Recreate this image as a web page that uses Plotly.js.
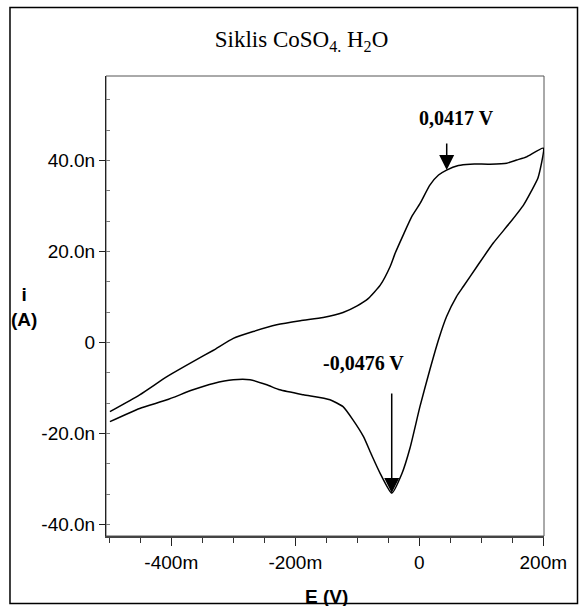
<!DOCTYPE html>
<html><head><meta charset="utf-8">
<script src="https://cdn.plot.ly/plotly-3.0.1.min.js"></script>
<style>html,body{margin:0;padding:0;background:#fff}</style>
</head><body><div id="chart" style="width:579px;height:606px"></div>
<script>
// Forward (anodic) scan, E in V, i in nA
const forwardE = [-0.499, -0.451, -0.407, -0.365, -0.332, -0.300, -0.268, -0.230, -0.192, -0.155, -0.123, -0.101, -0.082, -0.063, -0.047, -0.039, -0.026, -0.012, 0.001, 0.017, 0.031, 0.044, 0.063, 0.082, 0.114, 0.141, 0.157, 0.173, 0.200];
const forwardI = [-15.2, -11.5, -7.5, -4.2, -1.7, 0.9, 2.4, 3.9, 4.8, 5.5, 6.6, 8.0, 9.7, 12.6, 16.7, 19.6, 23.6, 27.7, 30.5, 34.6, 36.8, 37.9, 38.9, 39.2, 39.2, 39.4, 40.1, 40.8, 42.7];
// Reverse (cathodic) scan
const reverseE = [0.1915, 0.180, 0.168, 0.146, 0.119, 0.093, 0.071, 0.060, 0.044, 0.031, 0.017, 0.001, -0.015, -0.028, -0.0445, -0.063, -0.077, -0.090, -0.107, -0.123, -0.144, -0.187, -0.225, -0.246, -0.273, -0.300, -0.332, -0.365, -0.407, -0.451, -0.499];
const reverseI = [36.2, 33.1, 30.2, 26.3, 21.8, 16.7, 12.3, 10.1, 5.7, 0.6, -6.0, -14.1, -23.2, -28.8, -33.1, -28.8, -24.7, -20.7, -17.0, -14.1, -12.6, -11.5, -10.4, -9.3, -8.2, -8.2, -9.0, -10.4, -12.6, -14.5, -17.4];

const xTickVals = [-0.4, -0.2, 0, 0.2];
const xTickText = ['-400m', '-200m', '0', '200m'];
const yTickVals = [-40, -20, 0, 20, 40];
const yTickText = ['-40.0n', '-20.0n', '0', '20.0n', '40.0n'];

const anodicPeakE = 0.0442, anodicPeakI = 37.9, anodicLabel = '0,0417 V';
const cathodicPeakE = -0.0445, cathodicPeakI = -33.1, cathodicLabel = '-0,0476 V';

const trace = {
  x: forwardE.concat(reverseE),
  y: forwardI.concat(reverseI),
  type: 'scatter', mode: 'lines',
  line: {color: '#000', width: 1.5, shape: 'spline', smoothing: 0.5},
  cliponaxis: false, hoverinfo: 'skip'
};

const tickFont = {family: 'Liberation Sans, Arial, sans-serif', size: 19, color: '#000'};
const serifBold = {family: 'Liberation Serif, Times New Roman, serif', size: 20, color: '#000', weight: 'bold'};
const sansBold = {family: 'Liberation Sans, Arial, sans-serif', size: 19, color: '#000', weight: 'bold'};

const layout = {
  width: 579, height: 606,
  margin: {l: 106, r: 35, t: 76, b: 70},
  paper_bgcolor: '#fff', plot_bgcolor: '#fff',
  showlegend: false,
  title: {
    text: 'Siklis CoSO<sub>4.</sub> H<sub>2</sub>O',
    font: {family: 'Liberation Serif, Times New Roman, serif', size: 23, color: '#000'},
    xref: 'container', yref: 'container', x: 0.5207, xanchor: 'center',
    y: 0.9355, yanchor: 'middle'
  },
  xaxis: {
    range: [-0.5053, 0.2011], showgrid: false, zeroline: false,
    showline: true, linecolor: '#444', linewidth: 2,
    tickmode: 'array', tickvals: xTickVals, ticktext: xTickText,
    ticks: 'outside', ticklen: 8, tickwidth: 1, tickcolor: '#222',
    tickfont: tickFont,
    minor: {ticks: 'outside', ticklen: 5, tickwidth: 1, tickcolor: '#333', tickmode: 'linear', tick0: 0, dtick: 0.05, showgrid: false}
  },
  yaxis: {
    range: [-42.53, 58.57], showgrid: false, zeroline: false,
    showline: true, linecolor: '#222', linewidth: 1,
    tickmode: 'array', tickvals: yTickVals, ticktext: yTickText,
    ticks: 'outside', ticklen: 6, tickwidth: 1, tickcolor: '#222',
    tickfont: tickFont,
    minor: {ticks: 'inside', ticklen: 4, tickwidth: 1, tickcolor: '#777', tickmode: 'linear', tick0: 0, dtick: 20 / 3, showgrid: false}
  },
  shapes: [
    {type: 'rect', xref: 'paper', yref: 'paper', x0: 0, x1: 1, y0: 0, y1: 1, line: {color: '#555', width: 1}, layer: 'below'},
    {type: 'rect', xref: 'paper', yref: 'paper', x0: -0.2192, x1: 1.0765, y0: -0.1467, y1: 1.1489, line: {color: '#000', width: 1.5}}
  ],
  annotations: [
    {x: anodicPeakE, y: anodicPeakI, xref: 'x', yref: 'y', text: '', showarrow: true,
     ax: 0, ay: -28, arrowhead: 2, arrowsize: 2, arrowwidth: 1.5, arrowcolor: '#000', standoff: 0},
    {x: cathodicPeakE, y: cathodicPeakI, xref: 'x', yref: 'y', text: '', showarrow: true,
     ax: 0, ay: -101, arrowhead: 2, arrowsize: 2, arrowwidth: 1.5, arrowcolor: '#000', standoff: 0},
    {x: 0.0592, y: 49.3, xref: 'x', yref: 'y', text: anodicLabel, showarrow: false, font: serifBold, xanchor: 'center', yanchor: 'middle'},
    {x: -0.0897, y: -4.57, xref: 'x', yref: 'y', text: cathodicLabel, showarrow: false, font: serifBold, xanchor: 'center', yanchor: 'middle'},
    {x: -0.1872, y: 0.4989, xref: 'paper', yref: 'paper', text: 'i<br>(A)', showarrow: false, font: sansBold, xanchor: 'center', yanchor: 'middle'},
    {x: 0.5039, y: -0.1326, xref: 'paper', yref: 'paper', text: 'E (V)', showarrow: false, font: sansBold, xanchor: 'center', yanchor: 'middle'}
  ]
};

Plotly.newPlot('chart', [trace], layout, {displayModeBar: false, staticPlot: true});
</script>
</body></html>
